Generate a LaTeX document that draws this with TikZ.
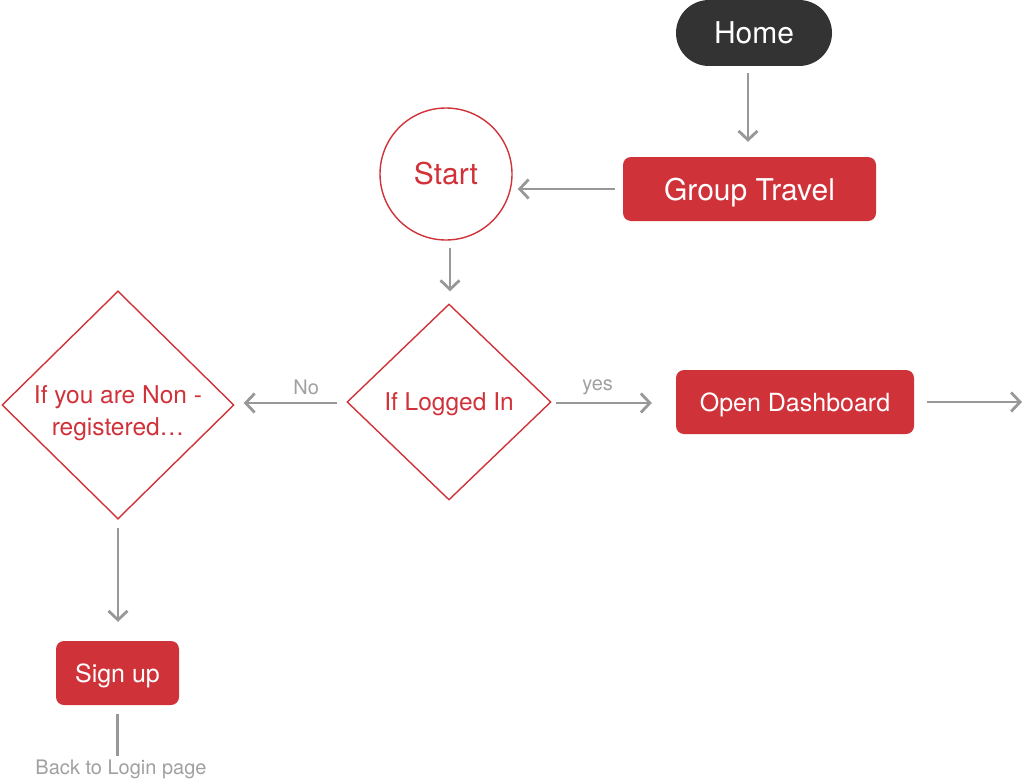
\documentclass[tikz,border=0pt]{standalone}
\usepackage{fontspec}
\setmainfont{TeX Gyre Heros}
\usetikzlibrary{shapes.geometric, arrows.meta, calc}
\definecolor{flowred}{RGB}{208,50,58}
\definecolor{flowdark}{RGB}{51,51,51}
\definecolor{flowgray}{RGB}{152,152,152}
\definecolor{notegray}{RGB}{160,160,160}

\begin{document}
\begin{tikzpicture}[x=1pt, y=-1pt, >={Straight Barb[length=9pt, width=19pt]},
    redbox/.style={rectangle, rounded corners=8pt, fill=flowred, text=white,
        inner sep=0pt, minimum height=64pt, text depth=0pt},
    decision/.style={diamond, draw=flowred, line width=1.4pt, text=flowred,
        inner sep=0pt, align=center, font=\fontsize{24.5}{32}\selectfont},
    link/.style={draw=flowgray, line width=2.8pt},
    note/.style={text=notegray, font=\fontsize{20}{24}\selectfont}]
\useasboundingbox (0, 0) rectangle (1024, 781);
\node[fill=flowdark, text=white, rounded corners=33pt, minimum width=156pt,
    minimum height=66pt, text depth=0pt, font=\fontsize{30}{36}\selectfont]
    at (754, 33) (home) {Home};
\node[redbox, minimum width=253pt, font=\fontsize{30}{36}\selectfont]
    at (749.5, 189) (group) {Group Travel};
\node[circle, draw=flowred, line width=1.4pt, text=flowred, minimum size=132pt,
    font=\fontsize{30}{36}\selectfont] at (446, 174) (start) {Start};
\node[decision, minimum width=204pt, minimum height=196pt, text depth=0pt]
    at (449, 402) (logged) {If Logged In};
\node[decision, minimum width=232pt, minimum height=226pt, text depth=0pt]
    at (118, 405) (nonreg) {\rule{0pt}{28pt}If you are Non -\\registered…};
\node[redbox, minimum width=238pt, font=\fontsize{25}{30}\selectfont]
    at (795, 402) (dash) {Open Dashboard};
\node[redbox, minimum width=123pt, font=\fontsize{25}{30}\selectfont]
    at (117.5, 673) (signup) {Sign up};
\node[note, inner sep=0pt] at (121, 769) (back) {Back to Login page};
\coordinate (dashout) at (1022, 402);
\path ([xshift=-6pt]home.south) edge[link, ->, shorten <=7pt, shorten >=15pt]
    ([xshift=-1.5pt]group.north);
\path (group.west) edge[link, ->, shorten <=8pt, shorten >=5pt]
    (group.west -| start.east);
\path ([xshift=4pt]start.south) edge[link, ->, shorten <=7pt, shorten >=12pt]
    ([xshift=1pt]logged.north);
\path ([yshift=-1pt]logged.west) edge[link, ->, shorten <=9pt, shorten >=9pt]
    node[note, pos=0.36, above, yshift=3pt] {No}
    ([yshift=-1pt]logged.west -| nonreg.east);
\path ([yshift=-1pt]logged.east) edge[link, ->, shorten <=4pt, shorten >=24pt]
    node[note, pos=0.37, above, yshift=3pt] {yes} ([yshift=-1pt]dash.west);
\path (dash.east) edge[link, ->, shorten <=13pt] (dashout);
\path (nonreg.south) edge[link, ->, shorten <=8pt, shorten >=19pt]
    (nonreg.south |- signup.north);
\path (signup.south) edge[link, shorten <=9pt, shorten >=3pt]
    (signup.south |- back.north);
\end{tikzpicture}
\end{document}
